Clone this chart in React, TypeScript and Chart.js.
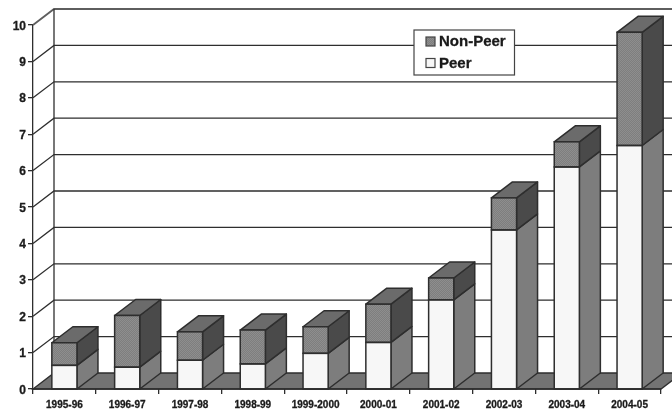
import React, { useEffect, useRef } from "react";
import { Chart, registerables } from "chart.js";

Chart.register(...registerables);

const categories = ["1995-96", "1996-97", "1997-98", "1998-99", "1999-2000", "2000-01", "2001-02", "2002-03", "2003-04", "2004-05"];
const peerValues = [0.65, 0.6, 0.79, 0.69, 0.98, 1.28, 2.45, 4.37, 6.1, 6.69];
const nonPeerValues = [0.62, 1.42, 0.78, 0.93, 0.73, 1.05, 0.6, 0.88, 0.69, 3.11];
const yTicks = [0, 1, 2, 3, 4, 5, 6, 7, 8, 9, 10];
const legendLabels = ["Non-Peer", "Peer"];

const DX = 21;
const DY = -16;
const STROKE = "#2e2e2e";
const TEXT = "#1a1a1a";

function meshPattern(): CanvasPattern | string {
  const c = document.createElement("canvas");
  c.width = 2;
  c.height = 2;
  const g = c.getContext("2d");
  if (!g) return "#858585";
  g.fillStyle = "#7e7e7e";
  g.fillRect(0, 0, 2, 2);
  g.fillStyle = "#8e8e8e";
  g.fillRect(0, 0, 1, 1);
  g.fillRect(1, 1, 1, 1);
  const p = g.createPattern(c, "repeat");
  return p || "#858585";
}

function poly(ctx: CanvasRenderingContext2D, pts: number[][], fill: string) {
  ctx.beginPath();
  pts.forEach((p, i) => (i ? ctx.lineTo(p[0], p[1]) : ctx.moveTo(p[0], p[1])));
  ctx.closePath();
  ctx.fillStyle = fill;
  ctx.fill();
  ctx.stroke();
}

const wall3d = {
  id: "wall3d",
  beforeDatasetsDraw(chart: any) {
    const { ctx, scales } = chart;
    const x = scales.x;
    const y = scales.y;
    const left = x.left;
    const right = x.right;
    ctx.save();
    ctx.strokeStyle = STROKE;
    ctx.lineWidth = 1.3;
    const y0 = y.getPixelForValue(0);
    poly(ctx, [[left, y0], [left + DX, y0 + DY], [right + DX, y0 + DY], [right, y0]], "#737373");
    yTicks.forEach((v) => {
      const py = y.getPixelForValue(v);
      if (v > 0) {
        ctx.beginPath();
        ctx.moveTo(left, py);
        ctx.lineTo(left + DX, py + DY);
        ctx.lineTo(right + DX, py + DY);
        ctx.strokeStyle = v === 10 ? "#5e5e5e" : STROKE;
        ctx.lineWidth = v === 10 ? 1.8 : 1.3;
        ctx.stroke();
      }
    });
    ctx.strokeStyle = STROKE;
    ctx.lineWidth = 1.3;
    ctx.beginPath();
    ctx.moveTo(left + DX, y.getPixelForValue(10) + DY);
    ctx.lineTo(left + DX, y0 + DY);
    ctx.stroke();
    const metaPeer = chart.getDatasetMeta(0);
    const metaNon = chart.getDatasetMeta(1);
    ctx.lineJoin = "round";
    ctx.lineWidth = 1.5;
    categories.forEach((_, i) => {
      const a = metaPeer.data[i];
      const b = metaNon.data[i];
      const hw = a.width / 2;
      const xr = a.x + hw;
      const xl = a.x - hw;
      poly(ctx, [[xr, y0], [xr + DX, y0 + DY], [xr + DX, a.y + DY], [xr, a.y]], "#7d7d7d");
      poly(ctx, [[xr, a.y], [xr + DX, a.y + DY], [xr + DX, b.y + DY], [xr, b.y]], "#4a4a4a");
      poly(ctx, [[xl, b.y], [xl + DX, b.y + DY], [xr + DX, b.y + DY], [xr, b.y]], "#6b6b6b");
    });
    ctx.restore();
  },
  afterDatasetsDraw(chart: any) {
    const { ctx, scales } = chart;
    const y0 = scales.y.getPixelForValue(0);
    const metaPeer = chart.getDatasetMeta(0);
    const metaNon = chart.getDatasetMeta(1);
    ctx.save();
    ctx.strokeStyle = STROKE;
    ctx.lineWidth = 1.5;
    categories.forEach((_, i) => {
      const a = metaPeer.data[i];
      const b = metaNon.data[i];
      const xl = a.x - a.width / 2;
      ctx.strokeRect(xl, a.y, a.width, y0 - a.y);
      ctx.strokeRect(xl, b.y, a.width, a.y - b.y);
    });
    ctx.restore();
  },
  afterDraw(chart: any) {
    const { ctx, scales } = chart;
    const y0 = scales.y.getPixelForValue(0);
    ctx.save();
    ctx.strokeStyle = STROKE;
    ctx.lineWidth = 1.3;
    ctx.beginPath();
    ctx.moveTo(scales.x.left, y0);
    ctx.lineTo(scales.x.right, y0);
    ctx.stroke();
    const bx = 414;
    const by = 30;
    const bw = 100.5;
    const bh = 45;
    ctx.fillStyle = "#ffffff";
    ctx.strokeStyle = "#444444";
    ctx.lineWidth = 1.2;
    ctx.fillRect(bx, by, bw, bh);
    ctx.strokeRect(bx, by, bw, bh);
    ctx.font = "bold 15px 'Liberation Sans'";
    ctx.textBaseline = "middle";
    ctx.textAlign = "left";
    legendLabels.forEach((label, i) => {
      const cy = by + 11.5 + i * 21.5;
      ctx.fillStyle = chart.data.datasets[1 - i].backgroundColor;
      ctx.fillRect(426, cy - 4.5, 9, 9);
      ctx.strokeStyle = "#444444";
      ctx.strokeRect(426, cy - 4.5, 9, 9);
      ctx.fillStyle = TEXT;
      ctx.strokeStyle = TEXT;
      ctx.lineWidth = 0.3;
      ctx.fillText(label, 439, cy + 0.5);
      ctx.strokeText(label, 439, cy + 0.5);
      ctx.lineWidth = 1.2;
    });
    ctx.restore();
  },
};

export default function App() {
  const ref = useRef<HTMLCanvasElement>(null);
  useEffect(() => {
    if (!ref.current) return;
    const chart = new Chart(ref.current, {
      type: "bar",
      data: {
        labels: categories,
        datasets: [
          { label: legendLabels[1], data: peerValues, backgroundColor: "#f7f7f7", borderWidth: 0 },
          { label: legendLabels[0], data: nonPeerValues, backgroundColor: meshPattern() as any, borderWidth: 0 },
        ],
      },
      plugins: [wall3d],
      options: {
        animation: false,
        responsive: false,
        devicePixelRatio: 1,
        layout: { padding: { top: 25, right: 11, left: 0, bottom: 0 } },
        plugins: { legend: { display: false }, tooltip: { enabled: false } },
        datasets: { bar: { categoryPercentage: 1, barPercentage: 0.4 } },
        scales: {
          x: {
            stacked: true,
            afterFit(s: any) { s.height = 20; },
            grid: { offset: true, drawOnChartArea: false, drawTicks: true, tickLength: 5, color: STROKE, lineWidth: 1.3 },
            border: { display: false },
            ticks: { maxRotation: 0, autoSkip: false, padding: 5, color: TEXT, textStrokeColor: TEXT, textStrokeWidth: 0.3, font: { family: "'Liberation Sans'", size: 10, weight: "bold" } },
          },
          y: {
            stacked: true,
            min: 0,
            max: 10,
            afterFit(s: any) { s.width = 33; },
            grid: { drawOnChartArea: false, tickLength: 5, color: STROKE, lineWidth: 1.3 },
            border: { display: true, color: STROKE, width: 1.3 },
            ticks: { stepSize: 1, padding: 2, labelOffset: 1.2, color: TEXT, textStrokeColor: TEXT, textStrokeWidth: 0.3, font: { family: "'Liberation Sans'", size: 12, weight: "bold" } },
          },
        },
      },
    });
    return () => chart.destroy();
  }, []);
  return (
    <div style={{ position: "fixed", left: 0, top: 0, width: 672, height: 409, background: "#fff" }}>
      <canvas ref={ref} width={672} height={409} style={{ display: "block" }} />
    </div>
  );
}
